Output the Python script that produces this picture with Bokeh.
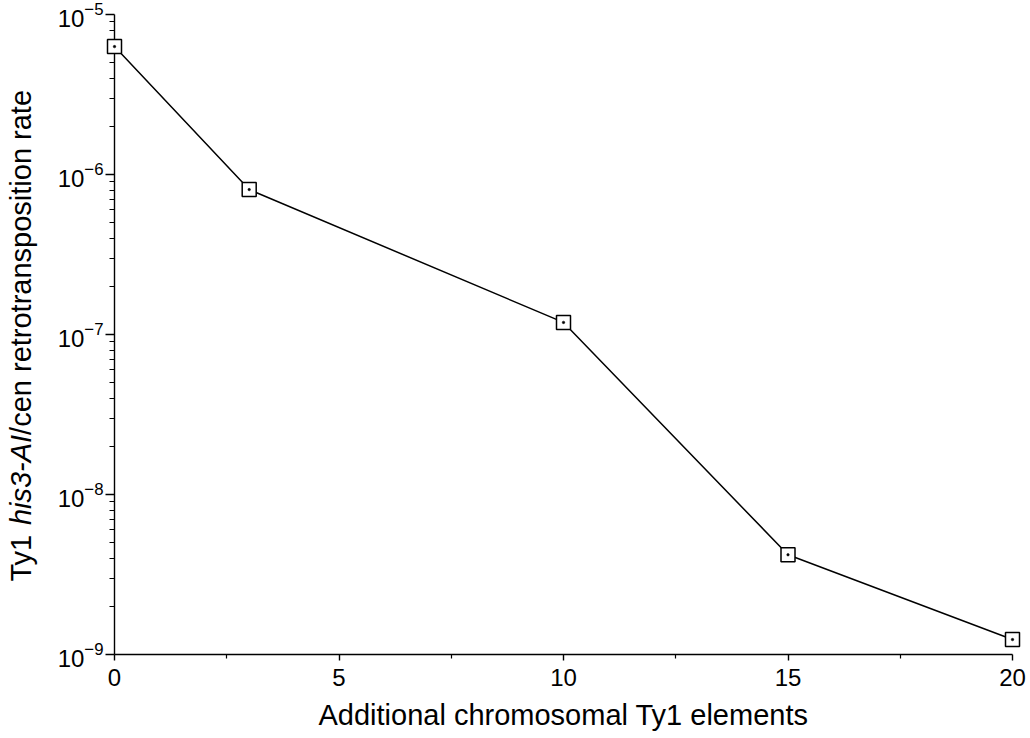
import math
from bokeh.plotting import figure
from bokeh.layouts import row
from bokeh.models import Range1d, FixedTicker, LogTickFormatter
from bokeh.core.properties import value
from bokeh.embed import file_html
from bokeh.resources import INLINE

# ---- data ----
ty1_elements = [0, 3, 10, 15, 20]
retro_rate = [6.3e-6, 8.05e-7, 1.19e-7, 4.2e-9, 1.24e-9]

x_major = [0, 5, 10, 15, 20]
x_minor = [2.5, 7.5, 12.5, 17.5]
y_exponents = [-9, -8, -7, -6, -5]

y_major = [10.0 ** e for e in y_exponents]
y_minor = [k * 10.0 ** e for e in y_exponents[:-1] for k in range(2, 10)]

ylabel_parts = ["Ty1", "his3-AI", "/cen retrotransposition rate"]
ylabel_styles = ["normal", "italic", "normal"]

FONT = "Liberation Sans"
H_TOP, H_FRAME, H_BOTTOM = 14, 640, 80
CANVAS_H = H_TOP + H_FRAME + H_BOTTOM
W_LEFT = 50

# ---- left strip holding the mixed-style y-axis title ----
lf = figure(
    frame_width=W_LEFT, frame_height=CANVAS_H,
    x_range=Range1d(0, W_LEFT), y_range=Range1d(0, CANVAS_H),
    min_border=0, min_border_left=0, min_border_right=0, min_border_top=0, min_border_bottom=0,
    x_axis_location=None, y_axis_location=None,
    output_backend="svg", toolbar_location=None,
    background_fill_color="white", border_fill_color="white",
)
lf.outline_line_color = None
lf.xgrid.visible = False
lf.ygrid.visible = False

base_x = 20
start_y = CANVAS_H - 567
offsets = [0, 56.4, 56.4 + 90.2]
for txt, style, off in zip(ylabel_parts, ylabel_styles, offsets):
    lf.text(x=[base_x], y=[start_y + off], text=[txt], angle=math.pi / 2,
            text_align="left", text_baseline="alphabetic",
            text_font=value(FONT), text_font_size="29px",
            text_font_style=style, text_color="black")

# ---- main plot ----
p = figure(
    frame_width=898, frame_height=H_FRAME,
    min_border_left=114 - W_LEFT, min_border_top=H_TOP, min_border_right=16,
    min_border_bottom=H_BOTTOM,
    x_range=Range1d(0, 20), y_range=Range1d(1e-9, 1e-5),
    y_axis_type="log",
    output_backend="svg", toolbar_location=None,
    background_fill_color="white", border_fill_color="white",
)
p.outline_line_color = None
p.xgrid.visible = False
p.ygrid.visible = False

xa = p.xaxis[0]
xa.ticker = FixedTicker(ticks=x_major, minor_ticks=x_minor)
xa.axis_label = "Additional chromosomal Ty1 elements"
xa.axis_label_text_font = FONT
xa.axis_label_text_font_size = "29px"
xa.axis_label_text_font_style = "normal"
xa.axis_label_text_color = "black"
xa.axis_label_standoff = 10
xa.major_label_text_font = FONT
xa.major_label_text_font_size = "24px"
xa.major_label_text_color = "black"
xa.major_label_standoff = 8
xa.major_tick_out = 6
xa.major_tick_in = 0
xa.minor_tick_out = 4
xa.minor_tick_in = 0
xa.axis_line_color = "black"
xa.axis_line_width = 1.4
xa.major_tick_line_color = "black"
xa.major_tick_line_width = 1.4
xa.minor_tick_line_color = "black"
xa.minor_tick_line_width = 1.2

ya = p.yaxis[0]
ya.ticker = FixedTicker(ticks=y_major, minor_ticks=y_minor)
ya.formatter = LogTickFormatter()
ya.major_label_text_font = FONT
ya.major_label_text_font_size = "24px"
ya.major_label_text_color = "black"
ya.major_label_standoff = 2
ya.major_tick_out = 9
ya.major_tick_in = 0
ya.minor_tick_out = 5
ya.minor_tick_in = 0
ya.axis_line_color = "black"
ya.axis_line_width = 1.4
ya.major_tick_line_color = "black"
ya.major_tick_line_width = 1.4
ya.minor_tick_line_color = "black"
ya.minor_tick_line_width = 1.2

p.line(ty1_elements, retro_rate, line_color="black", line_width=1.5, level="overlay")
p.scatter(ty1_elements, retro_rate, marker="square", size=14,
          fill_color="white", line_color="black", line_width=1.5, level="overlay")
p.scatter(ty1_elements, retro_rate, marker="circle", size=2.5,
          fill_color="black", line_color="black", line_width=0.5, level="overlay")

layout = row(lf, p, spacing=0)
open("out.html", "w").write(file_html(layout, INLINE))
